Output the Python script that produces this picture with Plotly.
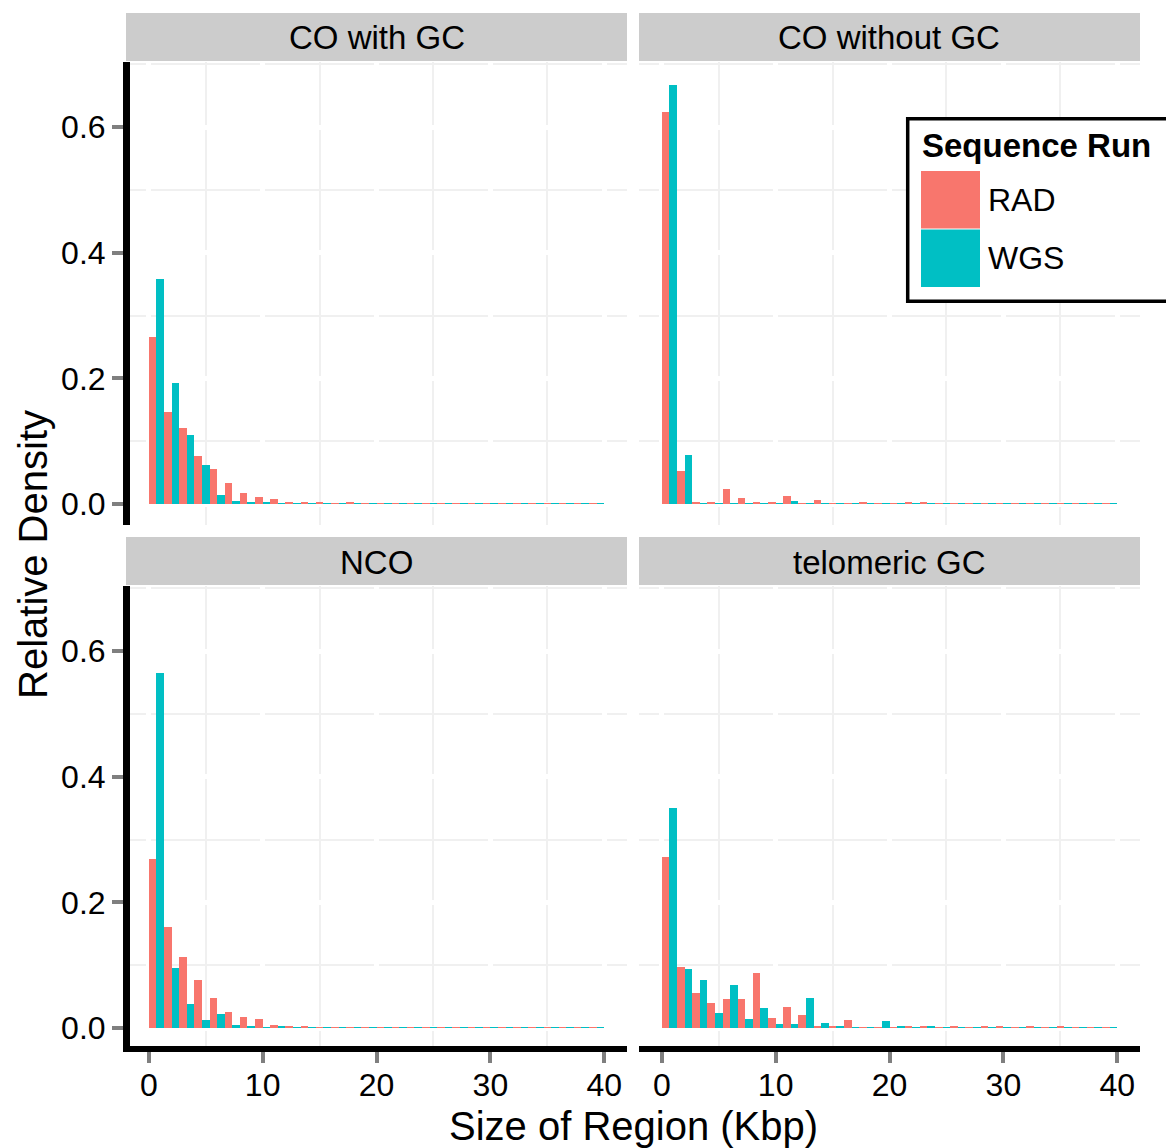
import plotly.graph_objects as go

# ---------------- data ----------------
facets = ["CO with GC", "CO without GC", "NCO", "telomeric GC"]
runs = ["RAD", "WGS"]
run_colors = {"RAD": "#F8766D", "WGS": "#00BFC4"}

# 30 histogram bins covering 0-40 Kbp
bin_width = 40 / 30
bin_centers = [(k + 0.5) * bin_width for k in range(30)]

co_gc_rad = [0.266, 0.146, 0.121, 0.0765, 0.056, 0.034, 0.018, 0.0116, 0.0084, 0.0037,
             0.002, 0.002, 0.0008, 0.002, 0.001, 0.001, 0.001, 0.001, 0.001, 0.001,
             0.001, 0.001, 0.001, 0.001, 0.001, 0.001, 0.001, 0.001, 0.001, 0.001]
co_gc_wgs = [0.358, 0.192, 0.110, 0.062, 0.0148, 0.005, 0.002, 0.002, 0.001, 0.001,
             0.001, 0.001, 0.001, 0.001, 0.001, 0.001, 0.001, 0.001, 0.001, 0.001,
             0.001, 0.001, 0.001, 0.001, 0.001, 0.001, 0.001, 0.001, 0.001, 0.001]

co_nogc_rad = [0.624, 0.053, 0.002, 0.0037, 0.024, 0.010, 0.002, 0.0037, 0.013, 0.001,
               0.0069, 0.001, 0.001, 0.002, 0.001, 0.001, 0.0021, 0.0026, 0.001, 0.001,
               0.001, 0.001, 0.001, 0.001, 0.001, 0.001, 0.001, 0.001, 0.001, 0.001]
co_nogc_wgs = [0.667, 0.078, 0.001, 0.001, 0.001, 0.001, 0.001, 0.001, 0.005, 0.001,
               0.001, 0.001, 0.001, 0.001, 0.001, 0.001, 0.001, 0.001, 0.001, 0.001,
               0.001, 0.001, 0.001, 0.001, 0.001, 0.001, 0.001, 0.001, 0.001, 0.001]

nco_rad = [0.269, 0.161, 0.113, 0.077, 0.047, 0.026, 0.018, 0.0137, 0.0042, 0.0026,
           0.0026, 0.0012, 0.001, 0.001, 0.001, 0.001, 0.001, 0.001, 0.001, 0.001,
           0.001, 0.001, 0.001, 0.001, 0.001, 0.001, 0.001, 0.001, 0.001, 0.001]
nco_wgs = [0.565, 0.096, 0.0375, 0.012, 0.0216, 0.0042, 0.0026, 0.001, 0.0026, 0.0012,
           0.0012, 0.001, 0.001, 0.001, 0.001, 0.001, 0.001, 0.001, 0.001, 0.001,
           0.001, 0.001, 0.001, 0.001, 0.001, 0.001, 0.001, 0.001, 0.001, 0.001]

telo_rad = [0.272, 0.0966, 0.0554, 0.0396, 0.046, 0.046, 0.087, 0.0158, 0.0332, 0.0206,
            0.0032, 0.0032, 0.0127, 0.001, 0.001, 0.001, 0.0037, 0.0037, 0.001, 0.002,
            0.001, 0.002, 0.002, 0.001, 0.002, 0.001, 0.002, 0.001, 0.001, 0.001]
telo_wgs = [0.351, 0.0934, 0.076, 0.0237, 0.068, 0.0142, 0.0317, 0.0063, 0.0063, 0.0475,
            0.0079, 0.0032, 0.001, 0.001, 0.0116, 0.0037, 0.001, 0.0037, 0.001, 0.001,
            0.001, 0.001, 0.001, 0.001, 0.001, 0.001, 0.001, 0.001, 0.001, 0.001]

facet_values = {
    "CO with GC": {"RAD": co_gc_rad, "WGS": co_gc_wgs},
    "CO without GC": {"RAD": co_nogc_rad, "WGS": co_nogc_wgs},
    "NCO": {"RAD": nco_rad, "WGS": nco_wgs},
    "telomeric GC": {"RAD": telo_rad, "WGS": telo_wgs},
}

x_ticks = [0, 10, 20, 30, 40]
y_ticks = [0.0, 0.2, 0.4, 0.6]
y_tick_text = ["0.0", "0.2", "0.4", "0.6"]

# ---------------- layout geometry (pixels) ----------------
W, H = 1166, 1148
FONT = "Liberation Sans, Arial, Helvetica, sans-serif"


def fx(p):
    return p / W


def fy(p):
    return 1 - p / H


px_per_kbp = 11.386
px_per_unit = 628.2
col_px = [(130, 627, 148.8), (639, 1140, 661.8)]   # left, right, x=0 position
row_px = [(62, 525, 504.0), (586, 1046, 1028.0)]   # top, bottom, y=0 position
strip_px = [(13, 61), (537, 585)]
strip_cols = [(126, 627), (639, 1140)]

fig = go.Figure()

axis_font = dict(family=FONT, size=32, color="black")

for i, facet in enumerate(facets):
    r, c = divmod(i, 2)
    n = i + 1
    xa = "x" if n == 1 else f"x{n}"
    ya = "y" if n == 1 else f"y{n}"
    for j, run in enumerate(runs):
        fig.add_trace(go.Bar(
            x=bin_centers, y=facet_values[facet][run],
            width=bin_width / 2, offset=-bin_width / 2 + j * bin_width / 2,
            marker=dict(color=run_colors[run], line=dict(width=0)),
            name=run, showlegend=False, xaxis=xa, yaxis=ya,
            hovertemplate=run + ": %{y}<extra></extra>",
        ))

    left, right, zx = col_px[c]
    top, bottom, zy = row_px[r]
    xr = [(left - zx) / px_per_kbp, (right - zx) / px_per_kbp]
    yr = [-(bottom - zy) / px_per_unit, (zy - top) / px_per_unit]
    key_x = "xaxis" if n == 1 else f"xaxis{n}"
    key_y = "yaxis" if n == 1 else f"yaxis{n}"
    show_x = r == 1
    show_y = c == 0
    fig.update_layout({
        key_x: dict(
            domain=[fx(left), fx(right)], range=xr, anchor=ya,
            tickvals=x_ticks, showticklabels=show_x,
            ticks="outside" if show_x else "", ticklen=11, tickwidth=3.5, tickcolor="#7F7F7F",
            ticklabelstandoff=-5,
            showline=show_x, linecolor="black", linewidth=6,
            showgrid=True, gridcolor="white", gridwidth=5, zeroline=False,
            minor=dict(dtick=5, tick0=0, showgrid=True, gridcolor="#F0F0F0", gridwidth=2, ticks=""),
            tickfont=axis_font, automargin=False, fixedrange=True,
        ),
        key_y: dict(
            domain=[fy(bottom), fy(top)], range=yr, anchor=xa,
            tickvals=y_ticks, ticktext=y_tick_text, showticklabels=show_y,
            ticks="outside" if show_y else "", ticklen=11, tickwidth=4, tickcolor="#7F7F7F",
            showline=show_y, linecolor="black", linewidth=7,
            showgrid=True, gridcolor="white", gridwidth=5, zeroline=False,
            minor=dict(dtick=0.1, tick0=0, showgrid=True, gridcolor="#F0F0F0", gridwidth=2, ticks=""),
            tickfont=axis_font, automargin=False, fixedrange=True,
        ),
    })

shapes = []
annotations = []

# facet strips
for i, facet in enumerate(facets):
    r, c = divmod(i, 2)
    s_top, s_bot = strip_px[r]
    s_left, s_right = strip_cols[c]
    shapes.append(dict(type="rect", xref="paper", yref="paper",
                       x0=fx(s_left), x1=fx(s_right), y0=fy(s_bot), y1=fy(s_top),
                       fillcolor="#CCCCCC", line=dict(width=0), layer="below"))
    annotations.append(dict(text=facet, xref="paper", yref="paper",
                            x=fx((s_left + s_right) / 2), y=fy((s_top + s_bot) / 2 + 1),
                            xanchor="center", yanchor="middle", showarrow=False,
                            font=dict(family=FONT, size=33, color="black")))

# axis titles
annotations.append(dict(text="Size of Region (Kbp)", xref="paper", yref="paper",
                        x=fx(633), y=fy(1126), xanchor="center", yanchor="middle",
                        showarrow=False, font=dict(family=FONT, size=40, color="black")))
annotations.append(dict(text="Relative Density", xref="paper", yref="paper",
                        x=fx(33), y=fy(555), xanchor="center", yanchor="middle", textangle=-90,
                        showarrow=False, font=dict(family=FONT, size=40, color="black")))

# legend box
shapes.append(dict(type="rect", xref="paper", yref="paper",
                   x0=fx(907.7), x1=fx(1175), y0=fy(301.3), y1=fy(118.7),
                   fillcolor="white", line=dict(color="black", width=3.5), layer="above"))
annotations.append(dict(text="<b>Sequence Run</b>", xref="paper", yref="paper",
                        x=fx(920), y=fy(146), xanchor="left", yanchor="middle",
                        showarrow=False, font=dict(family=FONT, size=33, color="black")))
legend_rows = [(171, 228.5, 200), (229.5, 287, 258)]
for run, (t, b, mid) in zip(runs, legend_rows):
    shapes.append(dict(type="rect", xref="paper", yref="paper",
                       x0=fx(921), x1=fx(980), y0=fy(b), y1=fy(t),
                       fillcolor=run_colors[run], line=dict(width=0), layer="above"))
    annotations.append(dict(text=run, xref="paper", yref="paper",
                            x=fx(986), y=fy(mid), xanchor="left", yanchor="middle",
                            showarrow=False, font=dict(family=FONT, size=32, color="black")))

fig.update_layout(
    width=W, height=H,
    margin=dict(l=0, r=0, t=0, b=0),
    paper_bgcolor="white", plot_bgcolor="white",
    barmode="overlay", bargap=0,
    showlegend=False,
    shapes=shapes, annotations=annotations,
    font=dict(family=FONT, color="black"),
)

fig.write_html("out.html")
